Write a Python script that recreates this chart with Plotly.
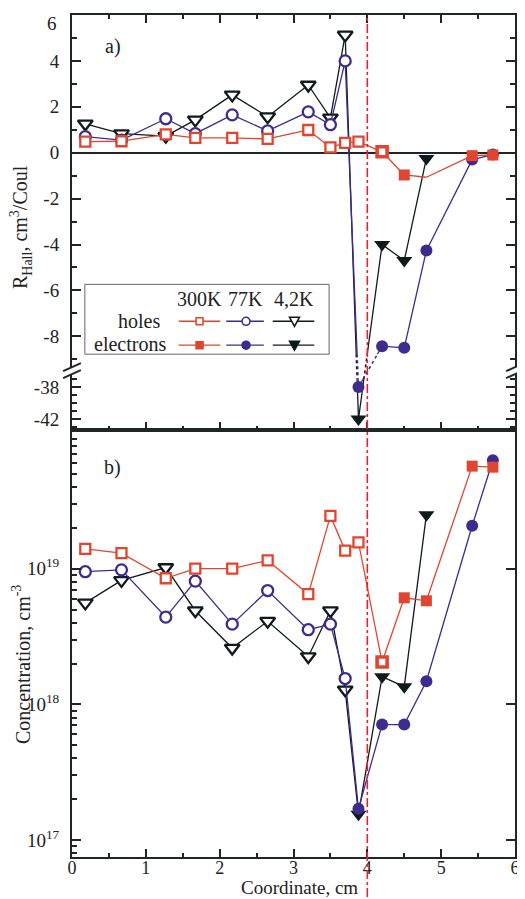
import plotly.graph_objects as go

# ---------------- data ----------------
X = [0.18, 0.67, 1.27, 1.67, 2.17, 2.65, 3.2, 3.5, 3.7, 3.88, 4.2, 4.5, 4.8, 5.42, 5.7]

# Hall coefficient, cm^3/Coul
R_300K = [0.48, 0.50, 0.80, 0.65, 0.65, 0.60, 0.99, 0.23, 0.43, 0.48, 0.04, -0.97, -1.07, -0.13, -0.10]
R_77K = [0.70, 0.55, 1.48, 0.83, 1.65, 0.95, 1.78, 1.22, 4.00, -38.0, -8.43, -8.50, -4.26, -0.30, -0.08]
R_4K = [1.26, 0.83, 0.72, 1.43, 2.52, 1.57, 2.95, 1.52, 5.13, -42.0, -4.00, -4.70, -0.25]

# carrier concentration, cm^-3
N_300K = [1.40e19, 1.30e19, 8.5e18, 1.00e19, 1.00e19, 1.15e19, 6.5e18, 2.45e19, 1.36e19, 1.56e19,
          2.05e18, 6.1e18, 5.8e18, 5.7e19, 5.6e19]
N_77K = [9.5e18, 9.8e18, 4.4e18, 8.1e18, 3.9e18, 6.9e18, 3.55e18, 3.9e18, 1.55e18, 1.7e17,
         7.1e17, 7.1e17, 1.48e18, 2.07e19, 6.3e19]
N_4K = [5.6e18, 8.2e18, 1.02e19, 4.9e18, 2.6e18, 4.1e18, 2.25e18, 4.9e18, 1.28e18, 1.55e17,
        1.6e18, 1.35e18, 2.5e19]

# carrier type of each point: h = holes, e = electrons
TYPE_300K = ["h"] * 11 + ["e"] * 4
TYPE_77K = ["h"] * 9 + ["e"] * 6
TYPE_4K = ["h"] * 9 + ["e"] * 4
TOP_300K_HIDDEN = [False] * 12 + [True] + [False] * 2   # point drawn without a symbol in panel a)

BOUNDARY_X = 4.0

R_TICKS = [6, 4, 2, 0, -2, -4, -6, -8, -38, -42]
R_TICKTEXT = ["", "4", "2", "0", "-2", "-4", "-6", "-8", "-38", "-42"]   # "6" placed separately
R_MINOR = [5, 3, 1, -1, -3, -5, -7, -9, -37, -39, -40, -41, -43]
N_TICKS = [1e17, 1e18, 1e19]
N_TICKTEXT = ["10<sup>17</sup>", "10<sup>18</sup>", "10<sup>19</sup>"]
N_MINOR = [float(m) * 10.0 ** e for e in (16, 17, 18, 19) for m in range(2, 10)]

# ---------------- broken axis mapping (panel a) ----------------
UPPER_MIN = -9.43     # lowest value of upper part
LOWER_MAX = -35.75    # highest value of lower part
LOWER_SCALE = 8.0 / 23.0
R_RANGE = (-43.375, 6.0)


def disp(v):
    return v if v >= UPPER_MIN else UPPER_MIN - (LOWER_MAX - v) * LOWER_SCALE


BAND = (-9.87, -8.78)  # display band around the break, drawn dotted

# ---------------- style ----------------
RED = "#e2452f"
PURPLE = "#3d2c8d"
BLACK = "#0f1b1b"
AX = "#1e2626"
FONT = "Liberation Serif, DejaVu Serif, Times New Roman, serif"

# the page body adds an 8px margin, so the figure is 8px smaller than the window
W, H = 517, 891
ML, MR, MT, MB = 64, 5, 5, 42
PW, PH = W - ML - MR, H - MT - MB
REF_LEFT, REF_BOTTOM = 72, 857      # plot area edges in window pixels
SPLIT_PX = 429
SPLIT = (REF_BOTTOM - SPLIT_PX) / PH


def px(xp):
    return (xp - REF_LEFT) / PW


def py(yp):
    return (REF_BOTTOM - yp) / PH


def split_by_band(xs, ds, lo, hi):
    sx, sy, dx, dy = [], [], [], []
    for i in range(len(xs) - 1):
        x1, d1, x2, d2 = xs[i], ds[i], xs[i + 1], ds[i + 1]
        ts = [0.0, 1.0]
        for b in (lo, hi):
            if (d1 - b) * (d2 - b) < 0:
                ts.append((b - d1) / (d2 - d1))
        ts.sort()
        for a, b in zip(ts[:-1], ts[1:]):
            xa, ya = x1 + a * (x2 - x1), d1 + a * (d2 - d1)
            xb, yb = x1 + b * (x2 - x1), d1 + b * (d2 - d1)
            if lo < (ya + yb) / 2 < hi:
                dx += [xa, xb, None]
                dy += [ya, yb, None]
            else:
                sx += [xa, xb, None]
                sy += [ya, yb, None]
    return sx, sy, dx, dy


SERIES = [
    # name, R, N, types, color, symbol, hole size, electron size
    ("4,2K", R_4K, N_4K, TYPE_4K, BLACK, "triangle-down", 13, 14),
    ("77K", R_77K, N_77K, TYPE_77K, PURPLE, "circle", 11, 12),
    ("300K", R_300K, N_300K, TYPE_300K, RED, "square", 10, 11),
]

fig = go.Figure()

for name, R, N, T, col, sym, s_h, s_e in SERIES:
    xs = X[:len(R)]
    d = [disp(v) for v in R]
    sx, sy, dx, dy = split_by_band(xs, d, *BAND)
    fig.add_trace(go.Scatter(x=sx, y=sy, mode="lines", line=dict(color=col, width=1.3),
                             xaxis="x", yaxis="y", showlegend=False, hoverinfo="skip"))
    fig.add_trace(go.Scatter(x=dx, y=dy, mode="lines", line=dict(color=col, width=1.6, dash="dot"),
                             xaxis="x", yaxis="y", showlegend=False, hoverinfo="skip"))
    hidden = TOP_300K_HIDDEN if name == "300K" else [False] * len(R)
    fills = ["white" if t == "h" else col for t in T]
    sizes = [0 if hid else (s_h if t == "h" else s_e) for t, hid in zip(T, hidden)]
    lw = [2.3 if t == "h" else 0 for t in T]
    if name == "300K":
        lw[10] = 3.6
    fig.add_trace(go.Scatter(x=xs, y=d, mode="markers", xaxis="x", yaxis="y", showlegend=False,
                             marker=dict(symbol=sym, size=sizes, color=fills, opacity=1,
                                         line=dict(color=col, width=lw)), name=name))
    # panel b
    fig.add_trace(go.Scatter(x=X[:len(N)], y=N, mode="lines+markers", xaxis="x2", yaxis="y2",
                             showlegend=False, line=dict(color=col, width=1.3), name=name,
                             marker=dict(symbol=sym, size=[s_h if t == "h" else s_e for t in T],
                                         color=fills, opacity=1, line=dict(color=col, width=lw))))

tickfont = dict(family=FONT, size=19, color="#222")
common_x = dict(range=[0, 6], dtick=1, tick0=0, showgrid=False, zeroline=False, showline=True,
                linecolor=AX, linewidth=2, ticks="inside", ticklen=8, tickwidth=2, tickcolor=AX,
                minor=dict(dtick=0.5, ticks="inside", ticklen=4, tickwidth=1.5, tickcolor=AX))

fig.update_layout(
    width=W, height=H, autosize=False,
    margin=dict(l=ML, r=MR, t=MT, b=MB),
    paper_bgcolor="white", plot_bgcolor="white",
    font=dict(family=FONT, color="#222"),
    xaxis=dict(common_x, domain=[0, 1], anchor="y", showticklabels=False, mirror="ticks"),
    yaxis=dict(domain=[SPLIT, 1], anchor="x", range=[disp(R_RANGE[0]), R_RANGE[1]],
               tickmode="array", tickvals=[disp(v) for v in R_TICKS], ticktext=R_TICKTEXT,
               showgrid=False, zeroline=True, zerolinecolor=AX, zerolinewidth=1.5,
               showline=True, linecolor=AX, linewidth=2, mirror="ticks",
               ticks="inside", ticklen=9, tickwidth=2, tickcolor=AX, tickfont=tickfont,
               ticklabelstandoff=7,
               minor=dict(tickmode="array", tickvals=[disp(v) for v in R_MINOR], ticks="inside",
                          ticklen=5, tickwidth=1.5, tickcolor=AX)),
    xaxis2=dict(common_x, domain=[0, 1], anchor="y2", showticklabels=True, mirror=True,
                tickfont=dict(family=FONT, size=18, color="#222"), ticklabelstandoff=-7),
    yaxis2=dict(domain=[0, SPLIT], anchor="x2", type="log", range=[16.875, 20.022],
                tickmode="array", tickvals=N_TICKS, ticktext=N_TICKTEXT,
                showgrid=False, zeroline=False, showline=True, linecolor=AX, linewidth=2, mirror=True,
                ticks="inside", ticklen=9, tickwidth=2, tickcolor=AX, tickfont=tickfont,
                ticklabelstandoff=7,
                minor=dict(tickmode="array", tickvals=N_MINOR, ticks="inside", ticklen=5,
                           tickwidth=1.5, tickcolor=AX)),
    yaxis3=dict(overlaying="y2", side="right", anchor="x2", type="log", range=[16.875, 20.022],
                tickmode="array", tickvals=N_TICKS, showticklabels=False, showgrid=False,
                zeroline=False, showline=False, ticks="inside", ticklen=9, tickwidth=2, tickcolor=AX),
)
# dummy trace to activate the right axis
fig.add_trace(go.Scatter(x=[None], y=[None], xaxis="x2", yaxis="y3", showlegend=False))

shapes = []
# boundary line
shapes.append(dict(type="line", xref="x", yref="paper", x0=BOUNDARY_X, x1=BOUNDARY_X,
                   y0=py(897), y1=1, line=dict(color="#e8212b", width=1.6, dash="dashdot"),
                   layer="above"))
# axis break marks
for xc in (REF_LEFT, REF_LEFT + PW):
    shapes.append(dict(type="rect", xref="paper", yref="paper", x0=px(xc - 4), x1=px(xc + 4),
                       y0=py(373), y1=py(366), fillcolor="white", line=dict(width=0), layer="above"))
    for yc in (366, 373):
        shapes.append(dict(type="line", xref="paper", yref="paper", x0=px(xc - 9), x1=px(xc + 9),
                           y0=py(yc + 4), y1=py(yc - 4), line=dict(color=AX, width=2),
                           layer="above"))
# legend box
shapes.append(dict(type="rect", xref="paper", yref="paper", x0=px(85), x1=px(332), y0=py(353),
                   y1=py(283), fillcolor="white", line=dict(color="#666", width=1), layer="above"))
LEG = [(RED, "square", 180, 222, 201), (PURPLE, "circle", 228, 266, 248),
       (BLACK, "triangle", 275, 317, 297)]
for col, kind, xa, xb, xm in LEG:
    for yrow, filled in ((320, False), (344, True)):
        shapes.append(dict(type="line", xref="paper", yref="paper", x0=px(xa), x1=px(xb),
                           y0=py(yrow), y1=py(yrow), line=dict(color=col, width=1.3), layer="above"))
        fill = col if filled else "white"
        if kind == "square":
            shapes.append(dict(type="rect", xref="paper", yref="paper", x0=px(xm - 3.5), x1=px(xm + 3.5),
                               y0=py(yrow + 3.5), y1=py(yrow - 3.5), fillcolor=fill,
                               line=dict(color=col, width=1.6), layer="above"))
        elif kind == "circle":
            shapes.append(dict(type="circle", xref="paper", yref="paper", x0=px(xm - 4), x1=px(xm + 4),
                               y0=py(yrow + 4), y1=py(yrow - 4), fillcolor=fill,
                               line=dict(color=col, width=1.6), layer="above"))
        else:
            path = "M {:.5f},{:.5f} L {:.5f},{:.5f} L {:.5f},{:.5f} Z".format(
                px(xm - 5), py(yrow - 4), px(xm + 5), py(yrow - 4), px(xm), py(yrow + 5))
            shapes.append(dict(type="path", xref="paper", yref="paper", path=path, fillcolor=fill,
                               line=dict(color=col, width=1.6), layer="above"))
fig.update_layout(shapes=shapes)

ann = []


def text(t, xp, yp, size=20, xanchor="center", angle=0):
    ann.append(dict(text=t, x=px(xp), y=py(yp), xref="paper", yref="paper", showarrow=False,
                    xanchor=xanchor, yanchor="middle", textangle=angle,
                    font=dict(family=FONT, size=size, color="#222")))


text("6", 59, 22, size=19, xanchor="right")
text("a)", 113, 45)
text("b)", 113, 467)
text("300K", 201, 298)
text("77K", 247, 298)
text("4,2K", 297, 298)
text("holes", 163, 320, xanchor="right")
text("electrons", 169, 343, xanchor="right")
text("R<sub>Hall</sub>, cm<sup>3</sup>/Coul", 21, 226, angle=-90)
text("Concentration, cm<sup>-3</sup>", 21, 664, angle=-90)
text("Coordinate, cm", 302, 888, size=19)
fig.update_layout(annotations=ann)

fig.write_html("out.html")
